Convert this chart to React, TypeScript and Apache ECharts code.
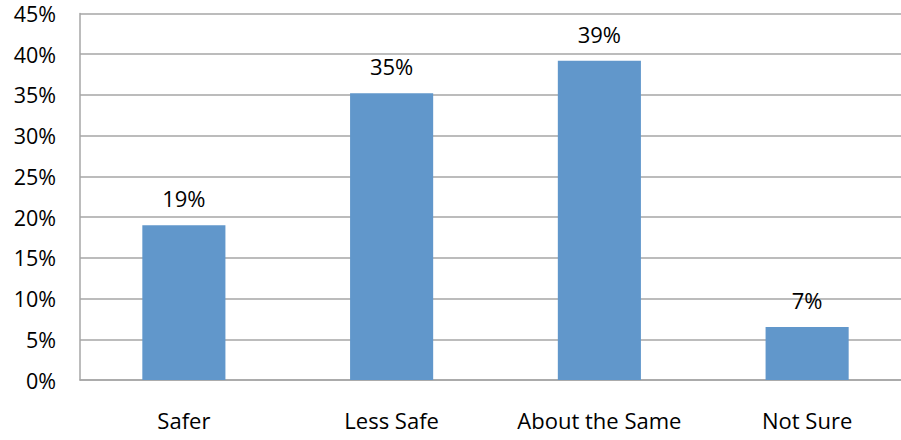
import React, { useEffect, useRef } from "react";
import * as echarts from "echarts";

const categories = ["Safer", "Less Safe", "About the Same", "Not Sure"];
const values = [19.0, 35.2, 39.2, 6.5];
const labels = ["19%", "35%", "39%", "7%"];

export default function App() {
  const ref = useRef<HTMLDivElement>(null);
  useEffect(() => {
    if (!ref.current) return;
    const chart = echarts.init(ref.current, undefined, { renderer: "svg" });
    const font = "'Open Sans', 'Noto Sans', sans-serif";
    chart.setOption({
      animation: false,
      grid: { left: 80, right: 0, top: 13.5, bottom: 60, containLabel: false },
      xAxis: {
        type: "category",
        data: categories,
        axisLine: { show: true, lineStyle: { color: "#A6A6A6", width: 1.5 } },
        axisTick: { show: false },
        axisLabel: { color: "#000", fontSize: 22, fontFamily: font, margin: 29, interval: 0, hideOverlap: false },
      },
      yAxis: {
        type: "value",
        min: 0,
        max: 45,
        interval: 5,
        axisLine: { show: true, lineStyle: { color: "#A6A6A6", width: 1.5 } },
        axisTick: { show: false },
        axisLabel: { color: "#000", fontSize: 21.5, fontFamily: font, margin: 24, formatter: "{value}%" },
        splitLine: { show: true, lineStyle: { color: "#A6A6A6", width: 1.5 } },
      },
      series: [
        {
          type: "bar",
          data: values,
          barWidth: "40%",
          itemStyle: { color: "#6197CB" },
          label: {
            show: true,
            position: "top",
            distance: 16,
            color: "#000",
            fontSize: 22,
            fontFamily: font,
            formatter: (p: any) => labels[p.dataIndex],
          },
        },
      ],
    });
    return () => chart.dispose();
  }, []);
  return (
    <div style={{ position: "fixed", left: 0, top: 0, width: 901, height: 440, overflow: "hidden", background: "#fff" }}>
      <div ref={ref} style={{ width: 911, height: 440 }} />
    </div>
  );
}
